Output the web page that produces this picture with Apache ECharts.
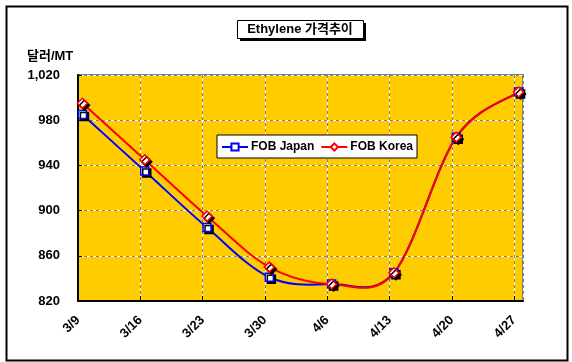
<!DOCTYPE html>
<html><head><meta charset="utf-8">
<script src="https://cdn.jsdelivr.net/npm/echarts@6/dist/echarts.min.js"></script>
<style>html,body{margin:0;padding:0;background:#fff}#c{width:572px;height:362px}</style>
</head><body><div id="c"></div>
<script>
// Week labels (x axis ticks every 7 days from 3/9)
const tickLabels = ['3/9','3/16','3/23','3/30','4/6','4/13','4/20','4/27'];
// Day offsets of observations from 3/9
const dayOffsets = [0.5, 7.5, 14.5, 21.5, 28.5, 35.5, 42.5, 49.5];
const fobJapan = [985, 935, 885, 841, 835, 845, 965, 1005];
const fobKorea = [995, 945, 895, 850, 835, 845, 965, 1005];
const seriesNames = ['FOB Japan', 'FOB Korea'];
const titleText = 'Ethylene 가격추이';
const yUnit = '달러/MT';

const font = '"Liberation Sans", Arial, sans-serif';
const pair = (xs, ys) => xs.map((x, i) => [x, ys[i]]);
const xFmt = v => (v % 7 === 0 && tickLabels[v / 7]) ? tickLabels[v / 7] : '';

const baseX = {type: 'value', min: 0, max: 50, interval: 7, gridIndex: 0};
const baseY = {type: 'value', min: 820, max: 1020, interval: 40, gridIndex: 0};

// Smoothed curve (Catmull-Rom style, like spreadsheet smoothing) drawn through the axis scales
function curveSeries(name, ys, color, z) {
  const n = ys.length;
  const T = 1 / 6;
  return {
    name: name, type: 'custom', xAxisIndex: 0, yAxisIndex: 0, z: z, silent: true,
    data: pair(dayOffsets, ys), encode: {x: 0, y: 1},
    renderItem: (params, api) => {
      const i = params.dataIndex;
      if (i >= n - 1) return null;
      const P = k => { const j = Math.max(0, Math.min(n - 1, k)); return api.coord([dayOffsets[j], ys[j]]); };
      const p0 = P(i - 1), p1 = P(i), p2 = P(i + 1), p3 = P(i + 2);
      return {
        type: 'bezierCurve',
        shape: {x1: p1[0], y1: p1[1], x2: p2[0], y2: p2[1],
                cpx1: p1[0] + (p2[0] - p0[0]) * T, cpy1: p1[1] + (p2[1] - p0[1]) * T,
                cpx2: p2[0] - (p3[0] - p1[0]) * T, cpy2: p2[1] - (p3[1] - p1[1]) * T},
        style: {stroke: color, lineWidth: 2, fill: null}
      };
    }
  };
}

const chart = echarts.init(document.getElementById('c'), null, {renderer: 'canvas'});
chart.setOption({
  animation: false,
  grid: {left: 78, top: 75, right: 49, bottom: 61, show: true,
         backgroundColor: '#FFCC00', borderColor: '#808080', borderWidth: 2},
  xAxis: [
    Object.assign({}, baseX, {
      axisLine: {show: true, onZero: false, lineStyle: {color: '#000', width: 2}},
      axisTick: {show: true, inside: true, length: 5, lineStyle: {color: '#000', width: 1}},
      axisLabel: {formatter: xFmt, rotate: 45, margin: 17, color: '#000',
                  fontFamily: font, fontWeight: 'bold', fontSize: 13, showMaxLabel: false},
      splitLine: {show: true, lineStyle: {color: '#808080', width: 1, type: [3, 3]}}
    }),
    Object.assign({}, baseX, {
      position: 'bottom', axisLine: {show: false}, axisTick: {show: false}, axisLabel: {show: false},
      splitLine: {show: true, lineStyle: {color: '#ffffff', width: 1, type: [3, 3], dashOffset: 3}}
    })
  ],
  yAxis: [
    Object.assign({}, baseY, {
      axisLine: {show: true, lineStyle: {color: '#000', width: 2}},
      axisTick: {show: true, inside: true, length: 4, lineStyle: {color: '#000', width: 1}},
      axisLabel: {formatter: v => v.toLocaleString('en-US'), margin: 18, color: '#000',
                  fontFamily: font, fontWeight: 'bold', fontSize: 13},
      splitLine: {show: true, lineStyle: {color: '#808080', width: 1, type: [3, 3]}}
    }),
    Object.assign({}, baseY, {
      position: 'left', axisLine: {show: false}, axisTick: {show: false}, axisLabel: {show: false},
      splitLine: {show: true, lineStyle: {color: '#ffffff', width: 1, type: [3, 3], dashOffset: 3}}
    })
  ],
  legend: {
    left: 217, top: 135, orient: 'horizontal',
    backgroundColor: '#fff', borderColor: '#000', borderWidth: 1, borderRadius: 0,
    padding: [6, 4, 5, 4], itemGap: 6, itemWidth: 26, itemHeight: 9,
    textStyle: {color: '#000', fontFamily: font, fontWeight: 'bold', fontSize: 12, padding: [0, 0, 0, -2]},
    data: [
      {name: seriesNames[0], lineStyle: {color: '#0000FF', width: 2, opacity: 1}},
      {name: seriesNames[1], lineStyle: {color: '#FF0000', width: 2, opacity: 1}}
    ]
  },
  graphic: [
    {type: 'rect', left: 4, top: 4, shape: {width: 561, height: 354},
     style: {fill: 'none', stroke: '#000', lineWidth: 2}, z: 100},
    {type: 'rect', left: 240, top: 23, shape: {width: 126, height: 18},
     style: {fill: '#000'}, z: 100},
    {type: 'rect', left: 237, top: 20, shape: {width: 126, height: 18},
     style: {fill: '#fff', stroke: '#000', lineWidth: 1}, z: 101},
    {type: 'text', x: 300, y: 29, z: 102,
     style: {text: titleText, fill: '#000', font: 'bold 13px "Liberation Sans", "Noto Sans CJK KR", sans-serif',
             align: 'center', verticalAlign: 'middle'}},
    {type: 'text', x: 27, y: 56, z: 102,
     style: {text: yUnit, fill: '#000', font: 'bold 13px "Liberation Sans", "Noto Sans CJK KR", sans-serif',
             align: 'left', verticalAlign: 'middle'}}
  ],
  series: [
    curveSeries('Japan curve', fobJapan, '#0000FF', 2),
    curveSeries('Korea curve', fobKorea, '#FF0000', 2),
    {name: seriesNames[0], type: 'line', xAxisIndex: 0, yAxisIndex: 0,
     data: pair(dayOffsets, fobJapan), symbol: 'rect', symbolSize: 8,
     lineStyle: {color: '#0000FF', width: 2, opacity: 0},
     itemStyle: {color: '#fff', borderColor: '#0000FF', borderWidth: 1.5,
                 shadowColor: '#000', shadowOffsetX: 2, shadowOffsetY: 2, shadowBlur: 0},
     z: 3},
    {name: seriesNames[1], type: 'line', xAxisIndex: 0, yAxisIndex: 0,
     data: pair(dayOffsets, fobKorea), symbol: 'diamond', symbolSize: 10,
     lineStyle: {color: '#FF0000', width: 2, opacity: 0},
     itemStyle: {color: '#fff', borderColor: '#FF0000', borderWidth: 1.5,
                 shadowColor: '#000', shadowOffsetX: 2, shadowOffsetY: 2, shadowBlur: 0},
     z: 4}
  ]
});
</script></body></html>
